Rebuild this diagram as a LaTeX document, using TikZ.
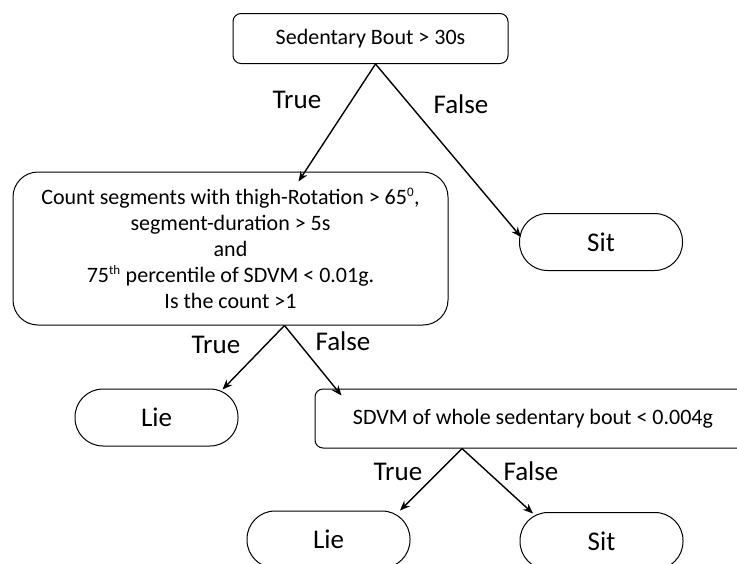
\documentclass[tikz,border=0pt]{standalone}
\usepackage{fontspec}
\setmainfont{Carlito}
\usetikzlibrary{arrows.meta}
\newcommand{\bx}{\fontsize{22}{26}\selectfont}
\newcommand{\lb}{\fontsize{27}{30}\selectfont}
\newcommand{\sps}[1]{\textsuperscript{\fontsize{13}{13}\selectfont #1}}

\begin{document}
\begin{tikzpicture}[x=1pt,y=-1pt,
   box/.style={draw,line width=1pt,rounded corners=8pt,font=\bx,align=center,inner sep=0pt},
   leaf/.style={draw,line width=1pt,rounded corners=28pt,minimum width=163pt,minimum height=57pt,font=\lb,inner sep=0pt},
   arr/.style={-{Stealth[length=10pt,width=8pt]},line width=1.4pt},
   lbl/.style={font=\lb,anchor=base}]
   \useasboundingbox (0,0) rectangle (737,563);
   \node[box,minimum width=275pt,minimum height=50pt] (bout) at (370.5,38.5) {Sedentary Bout > 30s};
   \node[box,rounded corners=25pt,minimum width=435pt,minimum height=153pt] (count) at (230.5,248.5)
      {Count segments with thigh-Rotation > 65\sps{0},\\ segment-duration > 5s\\ and\\
       75\sps{th} percentile of SDVM < 0.01g.\\ Is the count >1};
   \node[leaf] (sitA) at (601,242) {Sit};
   \node[leaf] (lieA) at (156.5,417.5) {Lie};
   \node[box,minimum width=436pt,minimum height=59pt] (sdvm) at (533,418.5) {SDVM of whole sedentary bout < 0.004g};
   \node[leaf] (lieB) at (328.5,539.5) {Lie};
   \node[leaf] (sitB) at (601.5,541) {Sit};
   \draw[arr] ([xshift=5pt]bout.south) -- ([xshift=68pt,yshift=-10pt]count.north);
   \draw[arr] ([xshift=5pt]bout.south) -- ([xshift=-80pt,yshift=-24pt]sitA.north);
   \draw[arr] ([xshift=54pt]count.south) -- ([xshift=66pt,yshift=-1pt]lieA.north);
   \draw[arr] ([xshift=54pt]count.south) -- ([xshift=27pt,yshift=-7pt]sdvm.north west);
   \draw[arr] ([xshift=-71pt]sdvm.south) -- ([xshift=71.5pt]lieB.north);
   \draw[arr] ([xshift=-71pt]sdvm.south) -- ([xshift=-68.5pt,yshift=-1.5pt]sitB.north);
   \node[lbl] (t1) at (297,108) {True};
   \node[lbl] (f1) at (461,113) {False};
   \node[lbl] (t2) at (216,353) {True};
   \node[lbl] (f2) at (343,350) {False};
   \node[lbl] (t3) at (398,480) {True};
   \node[lbl] (f3) at (531,480) {False};
\end{tikzpicture}
\end{document}
